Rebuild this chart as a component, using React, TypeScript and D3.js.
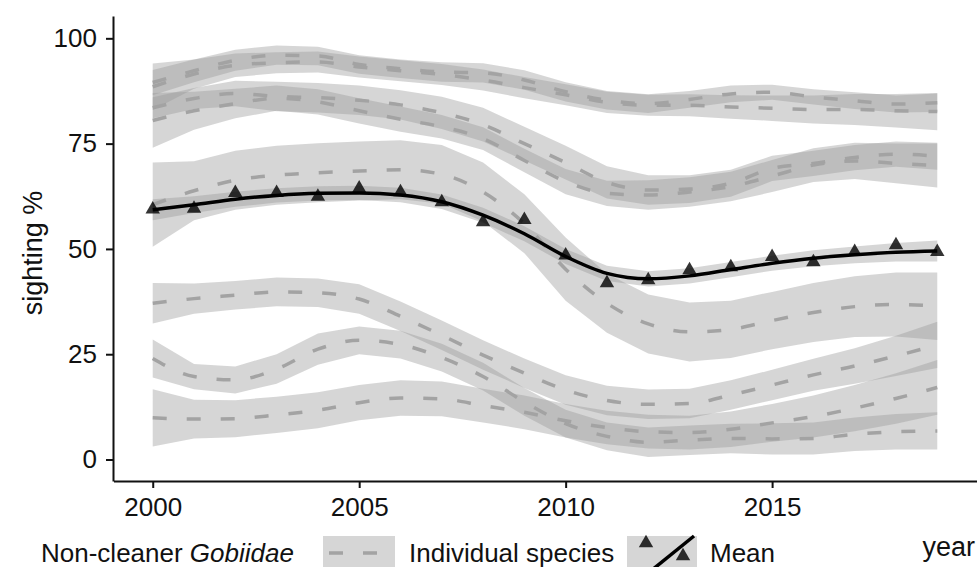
import React, { useRef, useEffect } from 'react';
import * as d3 from 'd3';

const years = [2000, 2001, 2002, 2003, 2004, 2005, 2006, 2007, 2008, 2009, 2010, 2011, 2012, 2013, 2014, 2015, 2016, 2017, 2018, 2019];

// individual species: fitted trend and half-width of the ribbon
const spA1 = [89.5, 92.3, 94.8, 96.0, 95.8, 93.8, 92.8, 92.0, 91.8, 90.1, 87.3, 85.3, 84.5, 85.5, 86.8, 87.2, 86.1, 85.2, 84.4, 84.7];
const spA1Ci = [3.0, 2.7, 2.5, 2.3, 2.2, 2.2, 2.2, 2.3, 2.3, 2.3, 2.3, 2.2, 2.2, 2.0, 2.0, 1.8, 1.8, 2.0, 2.0, 2.2];
const spA2 = [88.5, 91.5, 93.6, 94.2, 94.4, 93.2, 92.3, 91.4, 90.1, 88.3, 86.6, 84.8, 84.1, 84.1, 83.7, 83.4, 83.1, 83.1, 82.8, 82.6];
const spA2Ci = [5.5, 3.5, 2.8, 2.5, 2.5, 2.5, 2.5, 2.5, 2.5, 2.5, 2.5, 2.5, 2.5, 2.6, 2.8, 3.0, 3.3, 3.7, 4.0, 4.4];
const spB1 = [83.5, 85.7, 86.9, 86.2, 85.9, 85.3, 84.2, 82.3, 79.5, 75.0, 70.5, 65.8, 64.0, 64.2, 65.6, 69.1, 70.3, 71.7, 72.5, 72.0];
const spB1Ci = [2.5, 2.5, 3.0, 3.5, 3.5, 3.5, 3.5, 3.8, 4.0, 4.0, 4.0, 3.8, 3.5, 3.3, 3.2, 3.0, 3.0, 3.0, 3.0, 3.2];
const spB2 = [80.5, 82.8, 84.5, 85.8, 84.9, 82.8, 80.8, 79.0, 76.2, 71.0, 66.0, 63.2, 62.8, 63.5, 64.8, 67.3, 69.9, 70.9, 70.3, 69.8];
const spB2Ci = [6.5, 4.5, 3.5, 3.0, 3.0, 3.0, 3.0, 2.8, 2.7, 2.8, 3.0, 3.0, 3.5, 3.5, 3.5, 3.8, 4.0, 4.3, 4.7, 5.2];
const spC = [60.5, 63.8, 66.3, 67.5, 68.1, 68.5, 68.8, 67.7, 63.5, 56.0, 45.2, 37.1, 32.2, 30.3, 30.9, 33.0, 34.9, 36.3, 36.8, 36.4];
const spCCi = [10.0, 7.0, 7.0, 7.0, 7.0, 7.0, 7.0, 7.0, 7.0, 7.0, 7.5, 7.0, 7.0, 7.0, 6.8, 6.8, 7.0, 7.2, 7.6, 8.0];
const spD = [37.1, 38.2, 39.0, 39.8, 39.6, 38.1, 34.0, 29.5, 24.8, 20.5, 16.5, 14.0, 13.1, 13.3, 15.3, 17.7, 20.1, 22.2, 24.6, 27.2];
const spDCi = [4.8, 3.6, 3.4, 3.4, 3.4, 3.5, 3.5, 3.5, 3.5, 3.5, 3.5, 3.5, 3.5, 3.5, 3.5, 3.6, 3.8, 4.2, 4.8, 5.5];
const spE = [24.0, 19.7, 18.9, 21.5, 26.2, 28.3, 27.3, 24.2, 19.7, 13.7, 8.5, 5.5, 4.1, 4.6, 5.0, 4.9, 5.0, 6.0, 6.6, 6.8];
const spECi = [4.5, 3.0, 3.2, 3.5, 3.7, 3.3, 3.3, 3.3, 3.3, 3.3, 3.3, 3.3, 3.5, 3.5, 3.5, 3.7, 3.8, 4.0, 4.2, 4.4];
const spF = [9.9, 9.6, 9.7, 10.6, 11.7, 13.5, 14.6, 14.4, 12.8, 11.2, 9.2, 7.6, 6.6, 6.4, 7.2, 8.7, 10.2, 12.2, 14.5, 17.1];
const spFCi = [6.8, 4.6, 4.4, 4.3, 4.3, 4.2, 4.2, 4.1, 4.0, 4.0, 4.0, 4.0, 4.0, 4.0, 4.2, 4.5, 5.0, 5.5, 6.0, 6.5];

// mean over species
const meanFit = [59.3, 60.5, 61.8, 62.7, 63.2, 63.3, 62.8, 61.2, 58.0, 53.6, 48.2, 44.2, 42.9, 43.6, 45.1, 46.6, 47.8, 48.6, 49.2, 49.5];
const meanCi = [2.5, 2.0, 1.8, 1.7, 1.7, 1.7, 1.7, 1.7, 1.8, 1.8, 1.8, 1.8, 1.8, 1.8, 1.8, 1.8, 1.9, 2.0, 2.2, 2.5];
const meanObs = [59.4, 59.6, 63.3, 63.3, 62.4, 64.4, 63.5, 61.1, 56.4, 56.9, 48.5, 41.9, 42.6, 45.0, 45.7, 48.1, 46.9, 49.3, 50.9, 49.3];

const yTicks = [0, 25, 50, 75, 100];
const xTicks = [2000, 2005, 2010, 2015];

const App = () => {
  const ref = useRef<SVGSVGElement>(null);

  useEffect(() => {
    const svg = d3.select(ref.current);
    svg.selectAll('*').remove();

    const x = d3.scaleLinear().domain([1999.05, 2019.95]).range([113.5, 976.5]);
    const y = d3.scaleLinear().domain([-5.1, 105.3]).range([481, 16]);

    const species = [
      { fit: spA1, ci: spA1Ci },
      { fit: spA2, ci: spA2Ci },
      { fit: spB1, ci: spB1Ci },
      { fit: spB2, ci: spB2Ci },
      { fit: spC, ci: spCCi },
      { fit: spD, ci: spDCi },
      { fit: spE, ci: spECi },
      { fit: spF, ci: spFCi },
    ];

    const ribbon = (fit: number[], ci: number[]) =>
      d3.area<number>()
        .x((_, i) => x(years[i]))
        .y0((d, i) => y(Math.max(0, d - ci[i])))
        .y1((d, i) => y(d + ci[i]))(fit);

    const line = d3.line<number>()
      .x((_, i) => x(years[i]))
      .y(d => y(d))
      .curve(d3.curveMonotoneX);

    const g = svg.append('g');

    species.forEach(s => {
      g.append('path').attr('d', ribbon(s.fit, s.ci))
        .attr('fill', '#999').attr('fill-opacity', 0.4);
    });
    g.append('path').attr('d', ribbon(meanFit, meanCi))
      .attr('fill', '#999').attr('fill-opacity', 0.4);

    species.forEach(s => {
      g.append('path').attr('d', line(s.fit))
        .attr('fill', 'none').attr('stroke', '#a3a3a3')
        .attr('stroke-width', 3.5).attr('stroke-dasharray', '14 20');
    });

    g.append('path').attr('d', line(meanFit))
      .attr('fill', 'none').attr('stroke', '#000').attr('stroke-width', 3.5);

    const tri = d3.symbol().type(d3.symbolTriangle).size(90);
    g.selectAll('.obs').data(meanObs).enter().append('path')
      .attr('class', 'obs')
      .attr('d', tri)
      .attr('transform', (d, i) => `translate(${x(years[i])},${y(d)})`)
      .attr('fill', '#000').attr('fill-opacity', 0.8);

    const font = 'Liberation Sans, Arial, sans-serif';

    const ya = svg.append('g').attr('transform', 'translate(113,0)')
      .call(d3.axisLeft(y).tickValues(yTicks).tickSize(7).tickSizeOuter(0).tickPadding(9));
    const xa = svg.append('g').attr('transform', 'translate(0,481)')
      .call(d3.axisBottom(x).tickValues(xTicks).tickFormat(d3.format('d')).tickSize(7).tickSizeOuter(0).tickPadding(10));
    [ya, xa].forEach(a => {
      a.select('.domain').attr('stroke', '#111').attr('stroke-width', 2);
      a.selectAll('.tick line').attr('stroke', '#111').attr('stroke-width', 2);
      a.selectAll('.tick text').attr('font-size', 26).attr('font-family', font).attr('fill', '#111');
    });

    svg.append('text')
      .attr('transform', 'translate(42,253) rotate(-90)')
      .attr('text-anchor', 'middle')
      .attr('font-size', 27).attr('font-family', font).attr('fill', '#111')
      .text('sighting %');

    svg.append('text')
      .attr('x', 975).attr('y', 556).attr('text-anchor', 'end')
      .attr('font-size', 27).attr('font-family', font).attr('fill', '#111')
      .text('year');

    // legend
    const lg = svg.append('g').attr('font-family', font).attr('font-size', 26).attr('fill', '#111');
    const title = lg.append('text').attr('x', 41).attr('y', 562);
    title.append('tspan').text('Non-cleaner ');
    title.append('tspan').attr('font-style', 'italic').text('Gobiidae');

    lg.append('rect').attr('x', 323).attr('y', 536).attr('width', 72).attr('height', 34)
      .attr('fill', '#999').attr('fill-opacity', 0.4);
    lg.append('line').attr('x1', 323).attr('x2', 395).attr('y1', 553).attr('y2', 553)
      .attr('stroke', '#a3a3a3').attr('stroke-width', 3.5).attr('stroke-dasharray', '14 20')
      .attr('stroke-dashoffset', -6);
    lg.append('text').attr('x', 409).attr('y', 562).text('Individual species');

    lg.append('rect').attr('x', 627).attr('y', 536).attr('width', 70).attr('height', 34)
      .attr('fill', '#999').attr('fill-opacity', 0.4);
    lg.append('line').attr('x1', 652).attr('x2', 694).attr('y1', 570).attr('y2', 536)
      .attr('stroke', '#000').attr('stroke-width', 3.5);
    lg.append('path').attr('d', tri).attr('transform', 'translate(646,543)')
      .attr('fill', '#000').attr('fill-opacity', 0.8);
    lg.append('path').attr('d', tri).attr('transform', 'translate(683,556)')
      .attr('fill', '#000').attr('fill-opacity', 0.8);
    lg.append('text').attr('x', 710).attr('y', 562).text('Mean');
  }, []);

  return (
    <svg ref={ref} width={978} height={567}
      style={{ position: 'absolute', left: 0, top: 0, background: '#fff' }} />
  );
};

export default App;
